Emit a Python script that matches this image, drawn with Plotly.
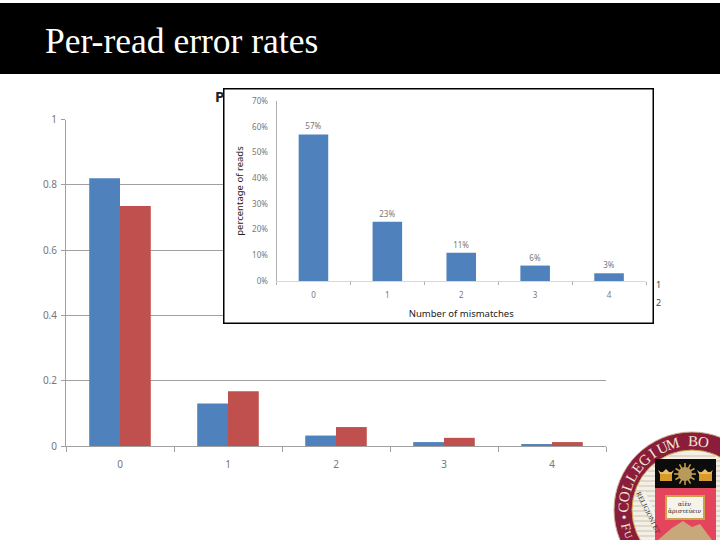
import math
import plotly.graph_objects as go

# data
mismatches = ["0", "1", "2", "3", "4"]
blue_rates = [0.82, 0.13, 0.032, 0.012, 0.006]
red_rates = [0.735, 0.168, 0.058, 0.025, 0.012]
inset_pct = [57, 23, 11, 6, 3]
inset_grid = [10, 20, 30, 40, 50, 60, 70]
inset_grid_colors = ["#8c8c8c", "#a8a8a8", "#c0c0c0", "#a0a0a0", "#8c8c8c", "#f0f0f0", "#8c8c8c"]
main_ticks = [0, 0.2, 0.4, 0.6, 0.8, 1]
main_tick_labels = ["0", "0.2", "0.4", "0.6", "0.8", "1"]

W, H = 720, 540
BLUE = "#4f81bd"
RED = "#c0504d"
MAROON = "#8a1c3c"
GOLD = "#c9a24a"


# pixel position -> paper fraction
def px(x):
    return x / W


def py(y):
    return 1 - y / H


def rect(x0, y0, x1, y1, fill, line=None, lw=0):
    return dict(type="rect", xref="paper", yref="paper", layer="above",
                x0=px(x0), x1=px(x1), y0=py(y0), y1=py(y1), fillcolor=fill,
                line=dict(color=line or fill, width=lw))


def disc(cx, cy, r, fill, line=None, lw=0):
    return dict(type="circle", xref="paper", yref="paper", layer="above",
                x0=px(cx - r), x1=px(cx + r), y0=py(cy + r), y1=py(cy - r), fillcolor=fill,
                line=dict(color=line or fill, width=lw))


def poly(points, fill):
    # paper-referenced path has to be given as fractions
    d = "M" + " L".join(f"{px(x):.5f},{py(y):.5f}" for x, y in points) + " Z"
    return dict(type="path", xref="paper", yref="paper", layer="above", path=d,
                fillcolor=fill, line=dict(width=0))


fig = go.Figure()

fig.add_trace(go.Bar(x=mismatches, y=blue_rates, marker_color=BLUE, marker_line_width=0))
fig.add_trace(go.Bar(x=mismatches, y=red_rates, marker_color=RED, marker_line_width=0))
fig.add_trace(go.Bar(x=mismatches, y=inset_pct, xaxis="x3", yaxis="y3", width=0.4,
                     marker_color=BLUE, marker_line_width=0,
                     text=[f"{v}%" for v in inset_pct], textposition="outside",
                     textfont=dict(size=8, color="#777777", family="Noto Sans"),
                     cliponaxis=False))

shapes = []

# white panel of the pasted chart: lives in its own subplot above the main gridlines
shapes.append(dict(type="rect", xref="x2", yref="y2", x0=0, x1=1, y0=0, y1=1, layer="below",
                   fillcolor="white", line=dict(color="black", width=3)))

# inset gridlines differ in strength, so they are drawn one by one
for val, col in zip(inset_grid, inset_grid_colors):
    shapes.append(dict(type="line", xref="x3 domain", yref="y3", x0=0, x1=1, y0=val, y1=val,
                       layer="below", line=dict(color=col, width=1)))

# title banner
shapes.append(rect(0, 3, W, 74, "black"))

# college seal
cx, cy = 692, 510
shapes.append(disc(cx, cy, 78, MAROON, "#c9b28a", 1))
shapes.append(disc(cx, cy, 60, "#f4efe6", GOLD, 1))
for yy in range(456, 540, 5):
    half = math.sqrt(max(59 ** 2 - (yy - cy) ** 2, 0))
    shapes.append(dict(type="line", xref="paper", yref="paper", layer="above",
                       x0=px(cx - half), x1=px(cx + half), y0=py(yy), y1=py(yy),
                       line=dict(color="#c9bfae", width=1)))
# ribbon left of the shield
shapes.append(poly([(637, 494), (645, 491), (663, 530), (657, 536)], "#f4f1ea"))
# shield
shapes.append(rect(655, 488, 716, 540, "#e5455c"))
shapes.append(rect(655, 459, 716, 488, "#0c0c0c"))
# mountains
shapes.append(poly([(658, 540), (672, 528), (683, 521), (692, 527), (700, 524), (712, 540)], "#c8a77a"))
# book
shapes.append(rect(665, 495, 705, 520, GOLD))
shapes.append(rect(667, 497, 703, 518, "#f6f3ea"))
# crowns and sun
shapes.append(rect(660, 472, 672, 481, "#d99a2b"))
shapes.append(poly([(658, 470), (662, 473), (666, 469), (670, 473), (674, 470), (672, 474), (660, 474)], "#e6c36a"))
shapes.append(rect(699, 472, 712, 481, "#d99a2b"))
shapes.append(poly([(697, 470), (701, 473), (705, 469), (709, 473), (713, 470), (711, 474), (699, 474)], "#e6c36a"))
for i in range(12):
    a = i * math.pi / 6
    shapes.append(dict(type="line", xref="paper", yref="paper", layer="above",
                       x0=px(685 + 6 * math.cos(a)), x1=px(685 + 11 * math.cos(a)),
                       y0=py(474 + 6 * math.sin(a)), y1=py(474 + 11 * math.sin(a)),
                       line=dict(color="#c9a24a", width=1.5)))
shapes.append(disc(685, 474, 7, "#b89a5a"))

annotations = [
    dict(text="Per-read error rates", x=px(43), y=py(41), xanchor="left", yanchor="middle",
         font=dict(family="Liberation Serif", size=35.5, color="white")),
    dict(text="<b>P</b>", x=px(213), y=py(96), xanchor="left", yanchor="middle",
         font=dict(family="Noto Sans", size=15, color="#222222")),
    dict(text="1", x=px(654), y=py(284), xanchor="left", yanchor="middle",
         font=dict(family="Noto Sans", size=9, color="#444444")),
    dict(text="2", x=px(654), y=py(302), xanchor="left", yanchor="middle",
         font=dict(family="Noto Sans", size=9, color="#444444")),
    dict(text="αἰὲν", x=px(685), y=py(503), xanchor="center", yanchor="middle",
         font=dict(family="DejaVu Serif", size=6, color="#222222")),
    dict(text="ἀριστεύειν", x=px(685), y=py(511), xanchor="center", yanchor="middle",
         font=dict(family="DejaVu Serif", size=6, color="#222222")),
    dict(text="RELIGIONI ET", x=px(648), y=py(513), xanchor="center", yanchor="middle", textangle=64,
         font=dict(family="Liberation Serif", size=7, color="#333333")),
]

# lettering around the seal, one rotated letter at a time; letters past the page edge are left out
seal_text = "COLLEGIUM BOSTONIENSE"
start_deg, step_deg = -88, 8.9
for i, ch in enumerate(seal_text):
    if ch == " ":
        continue
    deg = start_deg + i * step_deg
    a = math.radians(deg)
    lx, ly = cx + 69 * math.sin(a), cy - 69 * math.cos(a)
    if lx > W - 7 or ly > H - 9:
        continue
    annotations.append(dict(text=ch, x=px(lx), y=py(ly),
                            xanchor="center", yanchor="middle", textangle=deg,
                            font=dict(family="Liberation Serif", size=15, color="#f2e6d0")))

# the lower arc reads the other way round
for ch, deg, size in [("•", -96, 14), ("F", -104, 13), ("U", -111, 10)]:
    a = math.radians(deg)
    annotations.append(dict(text=ch, x=px(cx + 68 * math.sin(a)), y=py(cy - 68 * math.cos(a)),
                            xanchor="center", yanchor="middle", textangle=deg + 180,
                            font=dict(family="Liberation Serif", size=size, color="#f2e6d0")))

for a in annotations:
    a.update(xref="paper", yref="paper", showarrow=False)

fig.update_layout(
    width=W, height=H, autosize=False,
    margin=dict(l=0, r=0, t=0, b=0, pad=0, autoexpand=False),
    paper_bgcolor="white", plot_bgcolor="white",
    showlegend=False,
    barmode="group", bargap=0.43, bargroupgap=0,
    shapes=shapes, annotations=annotations,
    font=dict(family="Noto Sans", color="#777777"),
    # main chart
    xaxis=dict(domain=[px(66), px(606)], anchor="y", type="category", tickson="boundaries",
               ticks="outside", ticklen=5, tickcolor="#a0a0a0", linecolor="#a0a0a0", showline=True,
               showgrid=False, tickfont=dict(size=10), ticklabelstandoff=9),
    yaxis=dict(domain=[py(446), py(119.5)], anchor="x", range=[0, 1], tickvals=main_ticks,
               ticktext=main_tick_labels, ticks="outside", ticklen=4, tickcolor="#a0a0a0",
               linecolor="#a0a0a0", showline=True, gridcolor="#a0a0a0", zeroline=False,
               tickfont=dict(size=10), ticklabelstandoff=2),
    # panel behind the inset
    xaxis2=dict(domain=[px(223), px(654)], anchor="y2", range=[0, 1], visible=False),
    yaxis2=dict(domain=[py(324), py(88)], anchor="x2", range=[0, 1], visible=False),
    # pasted chart
    xaxis3=dict(domain=[px(276.5), px(646)], anchor="y3", type="category", tickson="boundaries",
                ticks="outside", ticklen=3, tickcolor="#b0b0b0", linecolor="#d8d8d8", showline=True,
                showgrid=False, tickfont=dict(size=8), ticklabelstandoff=6,
                title=dict(text="Number of mismatches", standoff=11,
                           font=dict(size=9.5, color="#222222"))),
    yaxis3=dict(domain=[py(281), py(101)], anchor="x3", range=[0, 70], tickvals=[0, 10, 20, 30, 40, 50, 60, 70],
                ticktext=["0%", "10%", "20%", "30%", "40%", "50%", "60%", "70%"],
                showgrid=False, zeroline=False, showline=True, linecolor="#b0b0b0",
                tickfont=dict(size=8), ticklabelstandoff=6,
                title=dict(text="percentage of reads", standoff=6,
                           font=dict(size=9.5, color="#222222"))),
)

# the browser's default body margin would shift the slide by 8 px
fig.write_html("out.html", config={"displayModeBar": False},
               post_script="document.body.style.margin='0';")
